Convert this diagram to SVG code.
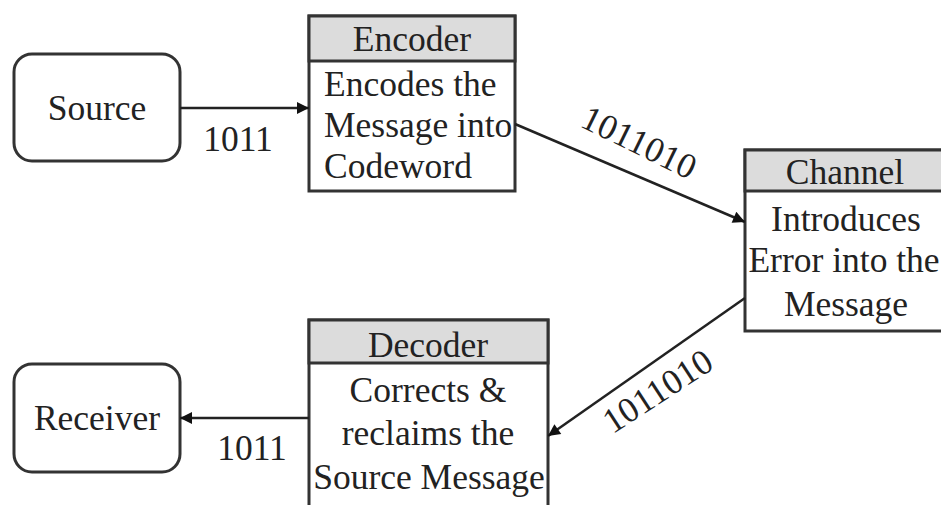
<svg xmlns="http://www.w3.org/2000/svg" width="941" height="505" viewBox="0 0 941 505">
<style>
text{font-family:"Liberation Serif","Times New Roman",serif;font-size:35.5px;fill:#222}
.box{fill:#fff;stroke:#333;stroke-width:3}
.hdr{fill:#dcdcdc;stroke:#333;stroke-width:3}
.c{text-anchor:middle}
.edge{stroke:#222;stroke-width:2.5;fill:none;marker-end:url(#ah)}
</style>
<defs>
<marker id="ah" viewBox="0 0 10 10" refX="10" refY="5" markerWidth="16" markerHeight="12" markerUnits="userSpaceOnUse" orient="auto">
<path d="M0,0 L10,5 L0,10 z" fill="#111"/>
</marker>
</defs>
<rect width="941" height="505" fill="#fff"/>
<g id="source">
<rect class="box" x="14" y="54" width="166" height="107" rx="18"/>
<text class="c" x="97" y="120">Source</text>
</g>
<g id="encoder">
<rect class="box" x="309" y="16" width="206" height="175"/>
<rect class="hdr" x="309" y="16" width="206" height="45"/>
<text class="c" x="412" y="51">Encoder</text>
<text x="324" y="96">Encodes the</text>
<text x="324" y="137">Message into</text>
<text x="324" y="178">Codeword</text>
</g>
<g id="channel">
<rect class="box" x="745" y="150" width="200" height="181"/>
<rect class="hdr" x="745" y="150" width="200" height="41"/>
<text class="c" x="845" y="184">Channel</text>
<text class="c" x="846" y="231">Introduces</text>
<text class="c" x="844" y="272" font-size="35">Error into the</text>
<text class="c" x="846" y="316">Message</text>
</g>
<g id="decoder">
<rect class="box" x="309" y="320" width="239" height="190"/>
<rect class="hdr" x="309" y="320" width="239" height="43"/>
<text class="c" x="428" y="357">Decoder</text>
<text class="c" x="428" y="402">Corrects &amp;</text>
<text class="c" x="428" y="445">reclaims the</text>
<text class="c" x="429" y="489">Source Message</text>
</g>
<g id="receiver">
<rect class="box" x="14" y="364" width="166" height="108" rx="18"/>
<text class="c" x="97" y="430">Receiver</text>
</g>
<g id="connectors">
<line class="edge" x1="180" y1="108" x2="309" y2="108"/>
<text class="c" x="238" y="151">1011</text>
<line class="edge" x1="515" y1="124" x2="745" y2="222"/>
<text class="c" transform="translate(634,153) rotate(26)">1011010</text>
<line class="edge" x1="745" y1="298" x2="548" y2="436"/>
<text class="c" transform="translate(664,401) rotate(-33)">1011010</text>
<line class="edge" x1="309" y1="418" x2="180" y2="418"/>
<text class="c" x="252" y="460">1011</text>
</g>
</svg>
